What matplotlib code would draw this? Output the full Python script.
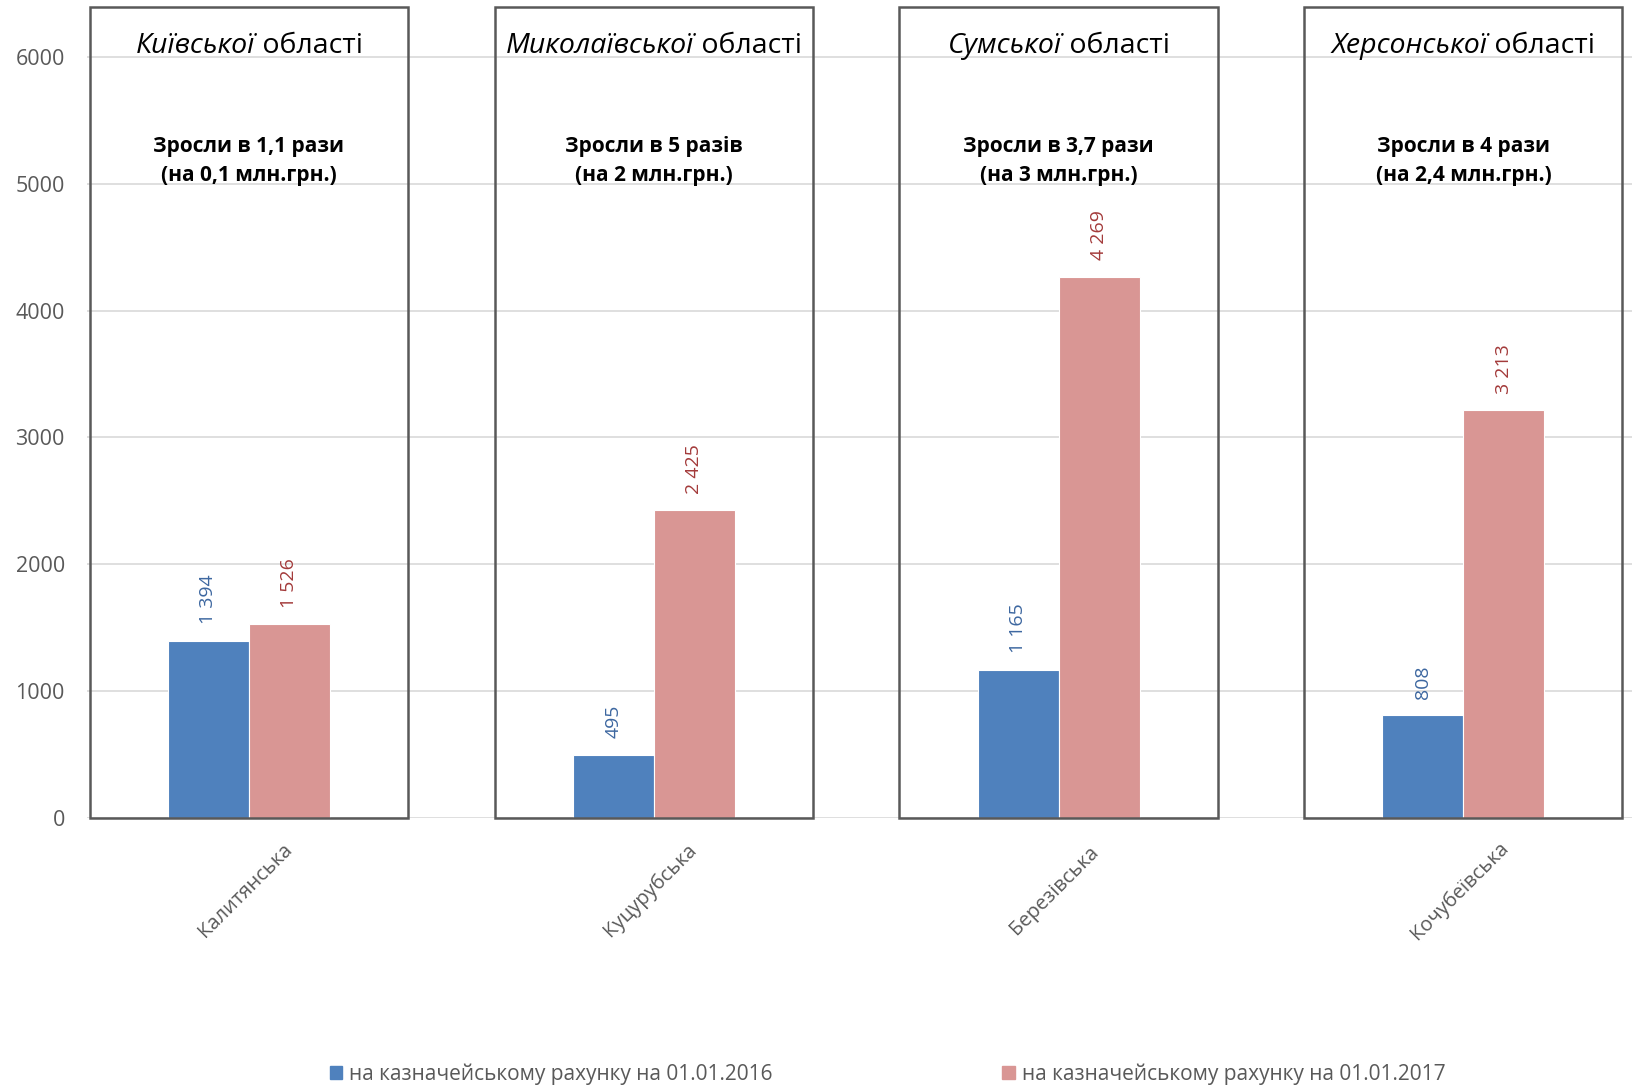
import matplotlib.pyplot as plt
import matplotlib.transforms as mtransforms
from matplotlib.patches import Rectangle, Patch
from matplotlib.offsetbox import TextArea, HPacker, AnnotationBbox

plt.rcParams['font.family'] = ['Open Sans', 'DejaVu Sans']

# --- Data ---
regions = ["Київської", "Миколаївської", "Сумської", "Херсонської"]
communities = ["Калитянська", "Куцурубська", "Березівська", "Кочубеївська"]
v2016 = [1394, 495, 1165, 808]
v2017 = [1526, 2425, 4269, 3213]
notes = ["Зросли в 1,1 рази\n(на 0,1 млн.грн.)",
         "Зросли в 5 разів\n(на 2 млн.грн.)",
         "Зросли в 3,7 рази\n(на 3 млн.грн.)",
         "Зросли в 4 рази\n(на 2,4 млн.грн.)"]
series_names = ["на казначейському рахунку на 01.01.2016",
                "на казначейському рахунку на 01.01.2017"]

BLUE = "#4F81BD"
PINK = "#D99694"
GREY = "#595959"

def fmt(v):
    return f"{v:,}".replace(",", " ")

# --- Plot ---
fig = plt.figure(figsize=(16.33, 10.86), dpi=100)
ax = fig.add_axes([0.0533, 0.2472, 0.9467, 0.7466])

x = list(range(len(regions)))
w = 0.2
ax.bar([i - w / 2 for i in x], v2016, w, color=BLUE, edgecolor="white", linewidth=0.8, zorder=3)
ax.bar([i + w / 2 for i in x], v2017, w, color=PINK, edgecolor="white", linewidth=0.8, zorder=3)

for i in x:
    ax.annotate(fmt(v2016[i]), (i - w / 2, v2016[i]), xytext=(0, 12), textcoords="offset points",
                rotation=90, ha="center", va="bottom", color="#3D67A0", fontsize=14)
    ax.annotate(fmt(v2017[i]), (i + w / 2, v2017[i]), xytext=(0, 12), textcoords="offset points",
                rotation=90, ha="center", va="bottom", color="#A33A3A", fontsize=14)

ax.set_ylim(0, 6400)
ax.set_xlim(-0.40, 3.419)
ax.set_yticks(range(0, 7000, 1000))
ax.tick_params(axis="y", length=0, pad=16, labelsize=15.5, labelcolor=GREY)
ax.set_xticks([])
ax.grid(axis="y", color="#D9D9D9", linewidth=1.2, zorder=0)
for s in ax.spines.values():
    s.set_visible(False)

# boxes with region names and notes
for i in x:
    ax.add_patch(Rectangle((i - 0.393, 0), 0.786, 6395, fill=False, edgecolor=GREY,
                           linewidth=1.8, zorder=4, clip_on=False))
    title = HPacker(children=[TextArea(regions[i], textprops=dict(fontsize=20.5, style="italic", color="black")),
                              TextArea(" області", textprops=dict(fontsize=20.5, color="black"))],
                    align="baseline", pad=0, sep=0)
    ab = AnnotationBbox(title, (i, 6090), frameon=False, box_alignment=(0.5, 0.5), zorder=5)
    ax.add_artist(ab)
    ax.text(i, 5182, notes[i], ha="center", va="center", fontsize=15, fontweight="bold",
            linespacing=1.55, zorder=5)

# category labels
trans = mtransforms.blended_transform_factory(ax.transData, ax.transAxes)
for i in x:
    ax.text(i - 0.01, -0.090, communities[i], transform=trans, rotation=45, ha="center", va="center",
            rotation_mode="anchor", fontsize=14.5, color=GREY)

handles = [Patch(color=BLUE), Patch(color=PINK)]
fig.legend(handles, series_names, loc="center", bbox_to_anchor=(0.5435, 0.011), ncol=2,
           frameon=False, fontsize=15, handlelength=0.6, handleheight=0.6, handletextpad=0.35,
           columnspacing=11.0, labelcolor=GREY, borderaxespad=0)

fig.savefig("out.png", dpi=100)
